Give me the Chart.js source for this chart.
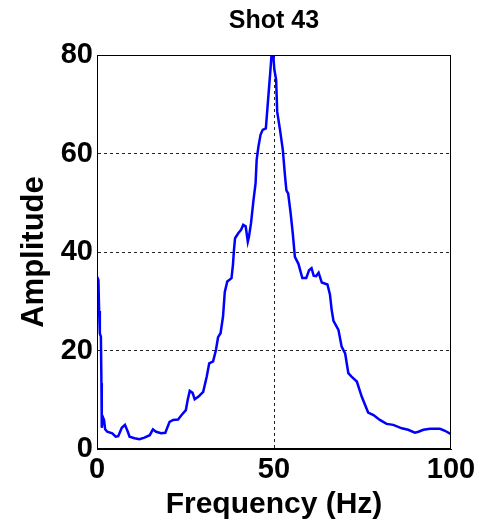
<!DOCTYPE html>
<html>
<head>
<meta charset="utf-8">
<script src="https://cdn.jsdelivr.net/npm/chart.js@4"></script>
<style>
  html, body { margin: 0; padding: 0; background: #fff; }
  canvas { display: block; }
</style>
</head>
<body>
<canvas id="chart" width="484" height="523"></canvas>
<script>
// spectrum (Hz / amplitude)
const freq = [0.0, 0.4, 0.6, 0.8, 1.1, 1.25, 1.35, 1.6, 2.0, 2.3, 2.9, 4.3, 5.3, 6.0, 7.0, 7.9, 8.7, 9.2,
  10.6, 12.0, 13.4, 14.9, 15.8, 16.7, 18.1, 19.3, 20.5, 21.5, 22.9, 23.9, 25.1, 25.6, 26.2, 27.0, 27.6,
  28.6, 30.0, 31.0, 31.7, 32.8, 33.6, 34.2, 34.9, 35.6, 36.1, 36.8, 38.0, 38.4, 38.7, 39.0, 39.9, 40.7,
  41.3, 42.0, 42.6, 42.9, 43.5, 44.2, 44.8, 45.1, 45.6, 46.2, 46.8, 47.7, 48.1, 48.7, 49.0, 49.3, 49.8,
  50.1, 50.6, 50.9, 51.7, 52.5, 53.1, 53.5, 54.0, 54.7, 55.3, 55.9, 56.9, 58.0, 59.1, 59.9, 60.6, 61.2,
  61.9, 62.6, 63.5, 65.1, 65.8, 66.3, 66.8, 68.2, 69.1, 70.1, 71.0, 71.9, 73.4, 74.8, 76.6, 78.1, 79.9,
  81.8, 83.7, 86.1, 87.9, 89.8, 90.8, 92.2, 94.1, 96.9, 98.3, 100];
const amp = [35, 34.3, 28, 23.5, 22.8, 13.4, 4.3, 6.6, 5.9, 4.0, 3.5, 3.2, 2.5, 2.6, 4.3, 4.9, 3.5, 2.5,
  2.2, 2.0, 2.3, 2.8, 4.0, 3.5, 3.2, 3.3, 5.5, 5.9, 6.0, 6.9, 7.9, 9.9, 11.8, 11.4, 10.1,
  10.6, 11.6, 14.7, 17.4, 17.8, 20.1, 22.7, 23.5, 26.9, 31.9, 34.0, 34.7, 37.4, 40.5, 42.8, 43.8, 44.5,
  45.5, 45.2, 42.1, 43.0, 45.8, 50.5, 54.0, 58.7, 61.4, 63.8, 64.8, 65.1, 68.8, 74.3, 77.0, 80.0, 80.0,
  77.0, 75.0, 68.5, 64.8, 60.7, 55.5, 52.5, 51.9, 47.9, 43.8, 39.0, 37.6, 34.7, 34.7, 36.3, 36.7, 35.2,
  35.1, 35.8, 33.8, 33.4, 31.4, 28.2, 26.0, 24.2, 20.8, 19.4, 15.4, 14.7, 13.7, 10.6, 7.4, 6.9, 5.9,
  5.1, 4.9, 4.2, 3.9, 3.3, 3.5, 3.9, 4.1, 4.1, 3.7, 3.0];

const xTicks = [0, 50, 100];
const yTicks = [0, 20, 40, 60, 80];

const FONT = "'Liberation Sans', Arial, sans-serif";

// matlab style closed box around the axes
const boxPlugin = {
    id: 'box',
    afterDraw(c){
        const a = c.chartArea, ctx = c.ctx;
        ctx.save();
        ctx.strokeStyle = '#000';
        ctx.lineWidth = 1;
        ctx.strokeRect(Math.round(a.left) + 0.5, Math.round(a.top) + 0.5,
                       Math.round(a.right - a.left) - 1, Math.round(a.bottom - a.top) - 1);
        ctx.restore();
    }
};

const ctx = document.getElementById('chart').getContext('2d');
new Chart(ctx, {
    type: 'scatter',
    data: {
        datasets: [{
            data: freq.map((f, i) => ({ x: f, y: amp[i] })),
            showLine: true,
            borderColor: '#0000ff',
            borderWidth: 2.5,
            pointRadius: 0,
            tension: 0
        }]
    },
    options: {
        responsive: false,
        animation: false,
        layout: { padding: { left: 0, right: 33, top: 0, bottom: 0 } },
        plugins: {
            legend: { display: false },
            tooltip: { enabled: false },
            title: {
                display: true,
                fullSize: false,          // center over the plot box, like matlab
                text: 'Shot 43',
                color: '#000',
                font: { family: FONT, size: 25, weight: 'bold' },
                padding: { top: 6, bottom: 19 }
            }
        },
        scales: {
            x: {
                type: 'linear',
                min: 0, max: 100,
                afterBuildTicks: s => { s.ticks = xTicks.map(v => ({ value: v })); },
                afterFit: s => { s.height = 74; },
                ticks: {
                    color: '#000',
                    padding: 4,
                    maxRotation: 0,
                    font: { family: FONT, size: 29, weight: 'bold' }
                },
                grid: {
                    drawTicks: false,
                    color: c => (c.tick && c.tick.value > 0 && c.tick.value < 100) ? '#222' : 'rgba(0,0,0,0)'
                },
                border: { display: true, color: '#000', width: 1, dash: [3, 3] },
                title: {
                    display: true,
                    text: 'Frequency (Hz)',
                    color: '#000',
                    font: { family: FONT, size: 30, weight: 'bold' },
                    padding: { top: 0, bottom: 0 }
                }
            },
            y: {
                min: 0, max: 80,
                afterBuildTicks: s => { s.ticks = yTicks.map(v => ({ value: v })); },
                afterFit: s => { s.width = 97; },
                ticks: {
                    color: '#000',
                    padding: 4,
                    font: { family: FONT, size: 29, weight: 'bold' }
                },
                grid: {
                    drawTicks: false,
                    color: c => (c.tick && c.tick.value > 0 && c.tick.value < 80) ? '#222' : 'rgba(0,0,0,0)'
                },
                border: { display: true, color: '#000', width: 1, dash: [3, 3] },
                title: {
                    display: true,
                    text: 'Amplitude',
                    color: '#000',
                    font: { family: FONT, size: 31, weight: 'bold' },
                    padding: { top: 16, bottom: 0 }
                }
            }
        }
    },
    plugins: [boxPlugin]
});
</script>
</body>
</html>
